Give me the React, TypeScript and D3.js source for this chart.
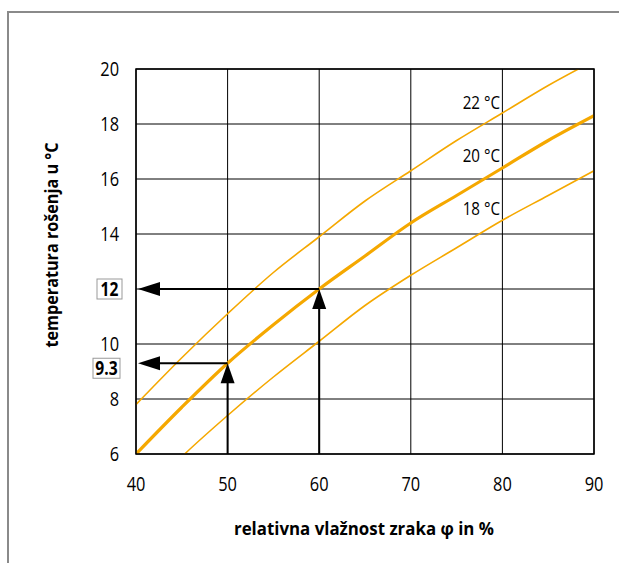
import React from "react";
import * as d3 from "d3";

const rh = [40, 45, 50, 55, 60, 65, 70, 75, 80, 85, 90];
const dew18 = [4.2, 5.9, 7.4, 8.8, 10.1, 11.4, 12.5, 13.5, 14.5, 15.4, 16.3];
const dew20 = [6.0, 7.7, 9.3, 10.7, 12.0, 13.2, 14.4, 15.4, 16.4, 17.4, 18.3];
const dew22 = [7.8, 9.5, 11.1, 12.6, 13.9, 15.2, 16.3, 17.4, 18.4, 19.4, 20.3];
const seriesLabels = ["18 °C", "20 °C", "22 °C"];
const xTicks = [40, 50, 60, 70, 80, 90];
const yTicks = [6, 8, 10, 12, 14, 16, 18, 20];
const readings = [
  { rh: 60, t: 12, label: "12" },
  { rh: 50, t: 9.3, label: "9.3" },
];

const W = 619, H = 563;
const L = 136, R = 594, T = 69, B = 454;
const ORANGE = "#f5a800";
const FONT = "'Open Sans', sans-serif";
const SX = 0.82;

function CText(props: {
  x: number;
  y: number;
  anchor?: string;
  size: number;
  bold?: boolean;
  sx?: number;
  children: React.ReactNode;
}) {
  const sx = props.sx ?? SX;
  return (
    <text
      transform={`translate(${props.x},${props.y}) scale(${sx},1)`}
      textAnchor={props.anchor || "start"}
      fontSize={props.size}
      fontWeight={props.bold ? "bold" : "normal"}
      fill="#000"
    >
      {props.children}
    </text>
  );
}

export default function App() {
  const x = d3.scaleLinear().domain([40, 90]).range([L, R]);
  const y = d3.scaleLinear().domain([6, 20]).range([B, T]);
  const line = d3
    .line<number>()
    .x((_, i) => x(rh[i]))
    .y((d) => y(d))
    .curve(d3.curveMonotoneX);
  const series = [
    { data: dew18, w: 1.6, label: seriesLabels[0], ly: 215 },
    { data: dew20, w: 3.2, label: seriesLabels[1], ly: 162 },
    { data: dew22, w: 1.6, label: seriesLabels[2], ly: 109 },
  ];
  return (
    <svg
      width={W}
      height={H}
      style={{ position: "absolute", left: 0, top: 0, background: "#fff" }}
      fontFamily={FONT}
    >
      <defs>
        <clipPath id="plot">
          <rect x={L} y={T} width={R - L} height={B - T} />
        </clipPath>
      </defs>
      {/* outer frame */}
      <path d={`M8,${H} V12 H${W}`} fill="none" stroke="#8a8a8a" strokeWidth={2} />
      {/* grid */}
      {xTicks.map((t) => (
        <line key={"gx" + t} x1={x(t)} x2={x(t)} y1={T} y2={B} stroke="#000" strokeWidth={1} />
      ))}
      {yTicks.map((t) => (
        <line key={"gy" + t} x1={L} x2={R} y1={y(t)} y2={y(t)} stroke="#000" strokeWidth={1} />
      ))}
      {/* curves */}
      <g clipPath="url(#plot)">
        {series.map((s) => (
          <path key={s.label} d={line(s.data) || ""} fill="none" stroke={ORANGE} strokeWidth={s.w} />
        ))}
      </g>
      {series.map((s) => (
        <CText key={"l" + s.label} x={500} y={s.ly} anchor="end" size={18.5}>
          {s.label}
        </CText>
      ))}
      {/* arrows */}
      {readings.map((r) => {
        const px = x(r.rh), py = y(r.t);
        return (
          <g key={"a" + r.label}>
            <line x1={px} x2={px} y1={B} y2={py + 18} stroke="#000" strokeWidth={2} />
            <path d={`M${px},${py} L${px - 7},${py + 20} L${px + 7},${py + 20} Z`} fill="#000" />
            <line x1={px} x2={L + 20} y1={py} y2={py} stroke="#000" strokeWidth={2} />
            <path d={`M${L + 2},${py} L${L + 24},${py - 7} L${L + 24},${py + 7} Z`} fill="#000" />
          </g>
        );
      })}
      {/* plot border */}
      <rect x={L} y={T} width={R - L} height={B - T} fill="none" stroke="#000" strokeWidth={1.5} />
      {/* y tick labels */}
      {yTicks
        .filter((t) => t !== 12)
        .map((t) => (
          <CText key={"yl" + t} x={119} y={y(t) + 7} anchor="end" size={20}>
            {t}
          </CText>
        ))}
      {/* boxed reading labels */}
      {readings.map((r, i) => {
        const py = y(r.t) + (i === 1 ? 5 : 0);
        const bw = r.label.length === 2 ? 25 : 27;
        const right = i === 0 ? 122 : 120;
        return (
          <g key={"b" + r.label}>
            <rect x={right - bw} y={py - 10} width={bw} height={20} fill="#fff" stroke="#999" strokeWidth={1} />
            <CText x={right - bw / 2} y={py + 7} anchor="middle" size={19.5} bold sx={0.8}>
              {r.label}
            </CText>
          </g>
        );
      })}
      {/* x tick labels */}
      {xTicks.map((t) => (
        <CText key={"xl" + t} x={x(t)} y={491} anchor="middle" size={20}>
          {t}
        </CText>
      ))}
      {/* axis titles */}
      <text
        x={364}
        y={535}
        textAnchor="middle"
        fontSize={18.5}
        fontWeight="bold"
        fill="#000"
        textLength={260}
        lengthAdjust="spacingAndGlyphs"
      >
        relativna vlažnost zraka φ in %
      </text>
      <text
        transform={`translate(58,245) rotate(-90)`}
        textAnchor="middle"
        fontSize={18.5}
        fontWeight="bold"
        fill="#000"
        textLength={205}
        lengthAdjust="spacingAndGlyphs"
      >
        temperatura rošenja u °C
      </text>
    </svg>
  );
}
